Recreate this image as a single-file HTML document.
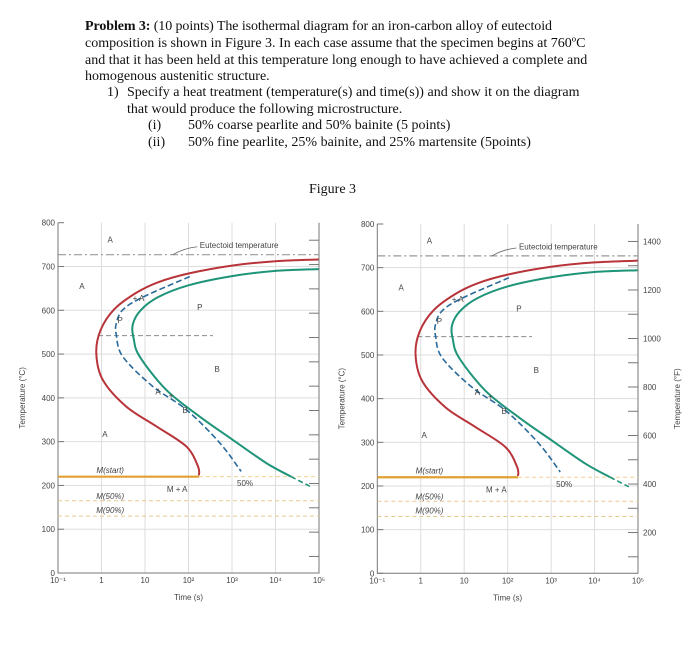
<!DOCTYPE html>
<html><head><meta charset="utf-8"><style>
body{margin:0;background:#fff;width:700px;height:647px;overflow:hidden}
.t{font-family:"Liberation Serif",serif;font-size:14px;fill:#111}
.s{font-family:"Liberation Sans",sans-serif;font-size:8px;fill:#444}
</style></head><body>
<svg id="svg" width="700" height="647" xmlns="http://www.w3.org/2000/svg">
<g>
<text class="t" x="85" y="30" textLength="467"><tspan font-weight="bold">Problem 3:</tspan> (10 points) The isothermal diagram for an iron-carbon alloy of eutectoid</text>
<text class="t" x="85" y="47">composition is shown in Figure 3. In each case assume that the specimen begins at 760ºC</text>
<text class="t" x="85" y="64">and that it has been held at this temperature long enough to have achieved a complete and</text>
<text class="t" x="85" y="80">homogenous austenitic structure.</text>
<text class="t" x="107" y="96">1)</text>
<text class="t" x="127" y="96">Specify a heat treatment (temperature(s) and time(s)) and show it on the diagram</text>
<text class="t" x="127" y="113">that would produce the following microstructure.</text>
<text class="t" x="148" y="129">(i)</text><text class="t" x="188" y="129">50% coarse pearlite and 50% bainite (5 points)</text>
<text class="t" x="148" y="146">(ii)</text><text class="t" x="188" y="146">50% fine pearlite, 25% bainite, and 25% martensite (5points)</text>
<text class="t" x="309" y="193">Figure 3</text>
</g>
</svg>
<script>
// time exponents (log10 s) and temperatures (°C)
const startLogT=[4.99,4.0,3.0,2.0,1.3,0.8,0.3,-0.02,-0.12,0.03,0.57,1.26,1.95,2.22,2.24];
const startT=[716,712,702,684,664,640,603,555,502,441,380,335,289,243,223];
const finishLogT=[4.99,4.0,3.0,2.0,1.3,0.9,0.72,0.74,0.88,1.49,2.26,3.02,3.79,4.36];
const finishT=[694,690,678,657,630,600,568,535,494,418,357,304,251,220];
const finishTailLogT=[4.36,4.79];
const finishTailT=[220,198];
const halfLogT=[2.03,0.95,0.49,0.34,0.34,0.49,1.18,1.95,2.72,3.21];
const halfT=[677,630,601,570,544,494,426,373,297,232];
const eutectoidT=727, msT=220, m50T=165, m90T=130, noseT=542;
const xTickLabels=["10⁻¹","1","10","10²","10³","10⁴","10⁵"];
const yTicks=[0,100,200,300,400,500,600,700,800];
const fTicks=[200,400,600,800,1000,1200,1400];
const fMinor=[100,300,500,700,900,1100,1300];

const svg=document.getElementById('svg');
const NS="http://www.w3.org/2000/svg";
function mk(tag,attrs,parent,text){const e=document.createElementNS(NS,tag);for(const k in attrs)e.setAttribute(k,attrs[k]);if(text!==undefined)e.textContent=text;parent.appendChild(e);return e;}
function smooth(pts){let d="M"+pts[0][0]+","+pts[0][1];for(let i=0;i<pts.length-1;i++){const p0=pts[Math.max(0,i-1)],p1=pts[i],p2=pts[i+1],p3=pts[Math.min(pts.length-1,i+2)];
d+=" C"+(p1[0]+(p2[0]-p0[0])/6)+","+(p1[1]+(p2[1]-p0[1])/6)+" "+(p2[0]-(p3[0]-p1[0])/6)+","+(p2[1]-(p3[1]-p1[1])/6)+" "+p2[0]+","+p2[1];}return d;}

function chart(name,x0,x1,yTop,yBot,fLabels){
  const g=mk('g',{},svg);
  
  
  const X=l=>x0+(l+1)*(x1-x0)/6, Y=t=>yBot-t*(yBot-yTop)/800;
  for(let i=1;i<6;i++){const gl=mk('line',{x1:X(i-1),x2:X(i-1),y1:yTop,y2:yBot,stroke:'#ddd','stroke-width':1},g);}
  yTicks.forEach(t=>{if(t>0&&t<800){const gl=mk('line',{x1:x0,x2:x1,y1:Y(t),y2:Y(t),stroke:'#ddd','stroke-width':1},g);}});
  const ax=mk('path',{d:`M${x0},${yTop}V${yBot}H${x1}V${yTop}`,fill:'none',stroke:'#777','stroke-width':1},g);
  
  yTicks.forEach(t=>{mk('line',{x1:x0,x2:x0+6,y1:Y(t),y2:Y(t),stroke:'#777'},g);const tl=mk('text',{class:'s',x:x0-3,y:Y(t)+3,'text-anchor':'end'},g,String(t));});
  xTickLabels.forEach((s,i)=>{const tl=mk('text',{class:'s',x:X(i-1),y:yBot+10,'text-anchor':'middle'},g,s);});
  const xt=mk('text',{class:'s',x:X(2.0),y:yBot+27,'text-anchor':'middle'},g,'Time (s)');
  const yt=mk('text',{class:'s',x:0,y:0,'text-anchor':'middle',transform:`translate(${x0-33},${Y(400)}) rotate(-90)`},g,'Temperature (°C)');
  const F=f=>Y((f-32)/1.8);
  fTicks.concat(fMinor).forEach(f=>mk('line',{x1:x1-10,x2:x1,y1:F(f),y2:F(f),stroke:'#777'},g));
  if(fLabels){fTicks.forEach(f=>{const tl=mk('text',{class:'s',x:x1+5,y:F(f)+3},g,String(f));});
    const ft=mk('text',{class:'s',x:0,y:0,'text-anchor':'middle',transform:`translate(${x1+42},${Y(400)}) rotate(-90)`},g,'Temperature (°F)');}
  const eu=mk('line',{x1:x0,x2:x1,y1:Y(eutectoidT),y2:Y(eutectoidT),stroke:'#999','stroke-width':1.2,'stroke-dasharray':'8,3,2,3'},g);
  const nose=mk('line',{x1:X(-0.08),x2:X(2.56),y1:Y(noseT),y2:Y(noseT),stroke:'#888','stroke-width':1,'stroke-dasharray':'5,3'},g);
  const ms=mk('line',{x1:x0,x2:X(2.24),y1:Y(msT),y2:Y(msT),stroke:'#e0a030','stroke-width':2.2},g);
  mk('line',{x1:X(2.24),x2:x1,y1:Y(msT),y2:Y(msT),stroke:'#f0d090','stroke-width':1,'stroke-dasharray':'4,3'},g);
  [m50T,m90T].forEach((t,i)=>{const l=mk('line',{x1:x0,x2:x1,y1:Y(t),y2:Y(t),stroke:'#e8c890','stroke-width':1,'stroke-dasharray':'4,3'},g);});
  const pts=(a,b)=>a.map((l,i)=>[X(l),Y(b[i])]);
  const c1=mk('path',{d:smooth(pts(startLogT,startT)),fill:'none',stroke:'#b8343a','stroke-width':2},g);
  const c2=mk('path',{d:smooth(pts(finishLogT,finishT)),fill:'none',stroke:'#1e9478','stroke-width':2},g);
  mk('path',{d:smooth(pts(finishTailLogT,finishTailT)),fill:'none',stroke:'#1e9478','stroke-width':1.6,'stroke-dasharray':'5,3'},g);
  const c3=mk('path',{d:smooth(pts(halfLogT,halfT)),fill:'none',stroke:'#2a6a9a','stroke-width':1.6,'stroke-dasharray':'6,3'},g);
  const labs=[['A',0.2,762],['A',-0.45,655],['P',0.43,578],['+ A',0.85,628],['P',2.26,607],['B',2.66,466],['A',1.3,415],['+',1.6,405],['B',1.92,372],['A',0.08,317],['M + A',1.74,192],['50%',3.3,205],['Eutectoid temperature',2.26,749]];
  labs.forEach(([s,l,t])=>{const e=mk('text',{class:'s',x:X(l),y:Y(t)+3,'text-anchor':s.length>6?'start':'middle'},g,s);});
  [['M(start)',235],['M(50%)',176],['M(90%)',144]].forEach(([s,t])=>{const e=mk('text',{class:'s',x:X(0.2),y:Y(t)+3,'text-anchor':'middle','font-style':'italic'},g,s);});
  mk('path',{d:`M${X(2.2)},${Y(745)} Q${X(1.9)},${Y(742)} ${X(1.64)},${Y(727)}`,fill:'none',stroke:'#666','stroke-width':0.8},g);
}
chart('left-chart',58,319,222.7,573,false);
chart('right-chart',377.3,638,224,573.3,true);
</script>
</body></html>
